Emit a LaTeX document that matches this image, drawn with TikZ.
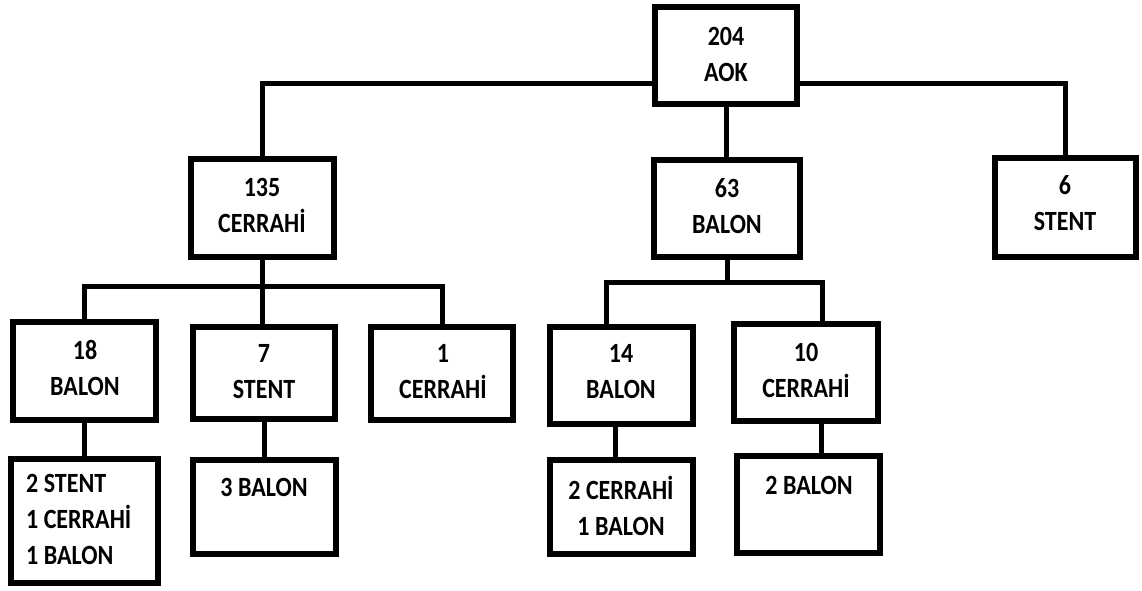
\documentclass[tikz,border=0pt]{standalone}
\usepackage{fontspec}
\setmainfont{Carlito}
\newcommand{\tl}[1]{\scalebox{1}[1.16]{#1}}
\begin{document}
\begin{tikzpicture}[x=1pt,y=-1pt,
  box/.style={draw=black, line width=6pt, fill=white, inner sep=0pt, line join=miter},
  conn/.style={draw=black, line width=5pt, line join=miter},
  txt/.style={font=\bfseries\fontsize{24}{36}\selectfont, align=center, inner sep=0pt, text=black}]
\useasboundingbox (0,0) rectangle (1142,590);
\fill[white] (0,0) rectangle (1142,590);

% boxes
\node[box, minimum width=142pt, minimum height=97pt]  (r)  at (726,55.5) {};
\node[box, minimum width=143pt, minimum height=98pt]  (c1) at (262.5,208) {};
\node[box, minimum width=146pt, minimum height=97pt]  (c2) at (727,208.5) {};
\node[box, minimum width=141pt, minimum height=99pt]  (c3) at (1065.5,207.5) {};
\node[box, minimum width=143pt, minimum height=98pt]  (d1) at (84.5,371) {};
\node[box, minimum width=142pt, minimum height=92pt]  (d2) at (264,373) {};
\node[box, minimum width=142pt, minimum height=93pt]  (d3) at (442,373.5) {};
\node[box, minimum width=143pt, minimum height=97pt]  (d4) at (621.5,375.5) {};
\node[box, minimum width=144pt, minimum height=97pt]  (d5) at (806,372.5) {};
\node[box, minimum width=147pt, minimum height=124pt] (e1) at (84.5,521) {};
\node[box, minimum width=143pt, minimum height=94pt]  (e2) at (264.5,507) {};
\node[box, minimum width=143pt, minimum height=94pt]  (e4) at (621.5,507) {};
\node[box, minimum width=143pt, minimum height=97pt]  (e5) at (808.5,504.5) {};

% box texts
\node[txt] (rt)  at (726,54.5)   {\tl{204}\\\tl{AOK}};
\node[txt] (c1t) at (262,205)    {\tl{135}\\\tl{CERRAHİ}};
\node[txt] (c2t) at (727,206.5)  {\tl{63}\\\tl{BALON}};
\node[txt] (c3t) at (1065,203.5) {\tl{6}\\\tl{STENT}};
\node[txt] (d1t) at (85,367.5)   {\tl{18}\\\tl{BALON}};
\node[txt] (d2t) at (264,371.5)  {\tl{7}\\\tl{STENT}};
\node[txt] (d3t) at (443,371.5)  {\tl{1}\\\tl{CERRAHİ}};
\node[txt] (d4t) at (621,371.5)  {\tl{14}\\\tl{BALON}};
\node[txt] (d5t) at (806,370.5)  {\tl{10}\\\tl{CERRAHİ}};
\node[txt, align=left, anchor=west] (e1t) at (26,519.5) {\tl{2 STENT}\\\tl{1 CERRAHİ}\\\tl{1 BALON}};
\node[txt] (e2t) at (264,487)    {\tl{3 BALON}};
\node[txt] (e4t) at (621,505.5)  {\tl{2 CERRAHİ}\\\tl{1 BALON}};
\node[txt] (e5t) at (809,485)    {\tl{2 BALON}};

% bus levels and drop positions
\coordinate (ytop) at (0,83);
\coordinate (b1) at (0,286);
\coordinate (b2l) at (606,282);
\coordinate (b2r) at (822,282);
\coordinate (s4) at (615,0);
\coordinate (s5) at (821,0);

% root level
\draw[conn] (r.west |- ytop) -| (c1.north);
\draw[conn] (r.east |- ytop) -| (c3.north);
\draw[conn] (r.south) -- (r.south |- c2.north);
% first branch
\draw[conn] (c1.south) -- (c1.south |- d2.north);
\draw[conn] (d1.north) -- (d1.north |- b1) -- (d3.north |- b1) -- (d3.north);
% second branch
\draw[conn] (c2.south) -- (c2.south |- b2l);
\draw[conn] (b2l |- d4.north) -- (b2l) -- (b2r) -- (b2r |- d5.north);
% third level
\draw[conn] (d1.south) -- (d1.south |- e1.north);
\draw[conn] (d2.south) -- (d2.south |- e2.north);
\draw[conn] (s4 |- d4.south) -- (s4 |- e4.north);
\draw[conn] (s5 |- d5.south) -- (s5 |- e5.north);
\end{tikzpicture}
\end{document}
